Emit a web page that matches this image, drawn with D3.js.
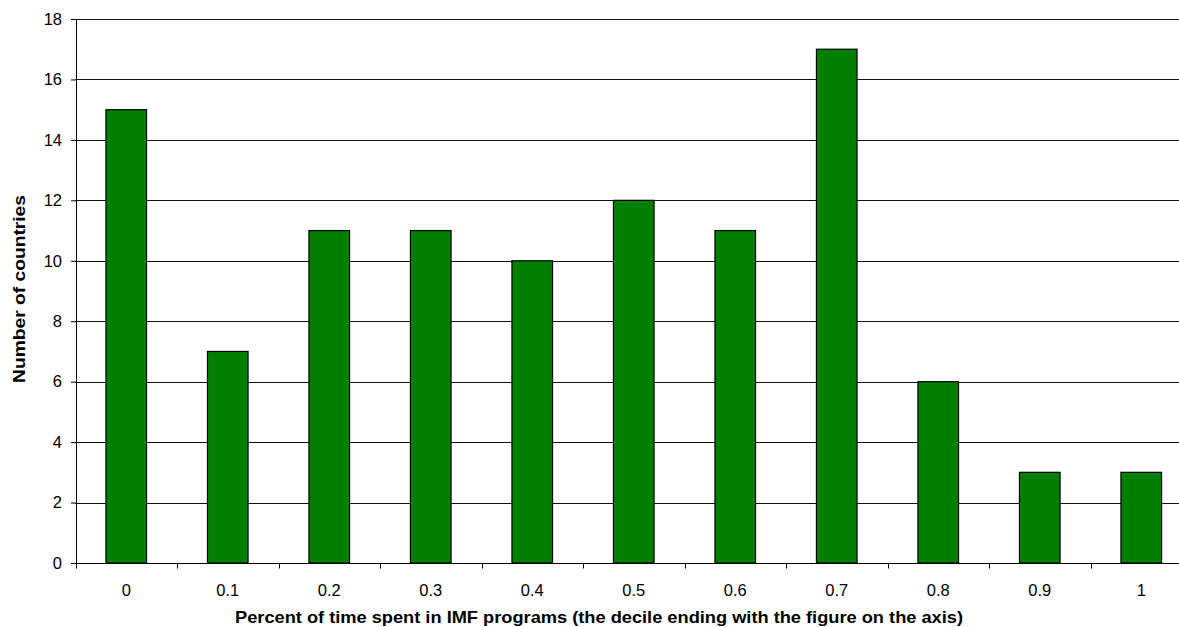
<!DOCTYPE html>
<html>
<head>
<meta charset="utf-8">
<script src="https://cdn.jsdelivr.net/npm/d3@7"></script>
<style>
  html, body { margin: 0; padding: 0; background: #fff; overflow: hidden; }
  svg { display: block; font-family: "Liberation Sans", Arial, sans-serif; }
</style>
</head>
<body>
<svg id="chart" width="1179" height="627"></svg>
<script>
// Deciles of time spent in IMF programs and country counts
const categories = ["0", "0.1", "0.2", "0.3", "0.4", "0.5", "0.6", "0.7", "0.8", "0.9", "1"];
const counts = [15, 7, 11, 11, 10, 12, 11, 17, 6, 3, 3];
const yTicks = [0, 2, 4, 6, 8, 10, 12, 14, 16, 18];

const svg = d3.select("#chart");
const plotLeft = 75.5, plotRight = 1192, plotTop = 19, plotBottom = 563;

const x = d3.scaleBand().domain(categories).range([plotLeft, plotRight]).paddingInner(0.6).paddingOuter(0.3);
const xb = d3.scaleBand().domain(categories).range([plotLeft, plotRight]);
const y = d3.scaleLinear().domain([0, 18]).range([plotBottom, plotTop]);

// horizontal gridlines
svg.append("g").selectAll("line").data(yTicks.slice(1)).join("line")
  .attr("x1", plotLeft).attr("x2", plotRight)
  .attr("y1", d => Math.round(y(d)) + 0.5).attr("y2", d => Math.round(y(d)) + 0.5)
  .attr("stroke", "#111").attr("stroke-width", 1);

// bars
svg.append("g").selectAll("rect").data(counts).join("rect")
  .attr("x", (d, i) => x(categories[i]))
  .attr("width", x.bandwidth())
  .attr("y", d => y(d))
  .attr("height", d => y(0) - y(d))
  .attr("fill", "#007f00")
  .attr("stroke", "#000").attr("stroke-width", 1.2);

// y axis
const yAxis = d3.axisLeft(y).tickValues(yTicks).tickSize(5).tickPadding(9);
const gy = svg.append("g").attr("transform", `translate(${plotLeft + 0.5},0)`).call(yAxis);
gy.select(".domain").attr("stroke", "#000");
gy.selectAll(".tick line").attr("stroke", "#000");
gy.selectAll("text").attr("font-size", 16.5).attr("fill", "#000")
  .attr("font-family", "Liberation Sans, Arial, sans-serif");

// x axis: ticks at band boundaries
const gx = svg.append("g").attr("transform", `translate(0,${Math.round(plotBottom) + 0.5})`);
gx.append("line").attr("x1", plotLeft).attr("x2", plotRight).attr("stroke", "#000");
const boundaries = categories.map(c => xb(c)).concat([plotRight]);
gx.selectAll("line.tk").data(boundaries).join("line").attr("class", "tk")
  .attr("x1", d => Math.round(d) + 0.5).attr("x2", d => Math.round(d) + 0.5)
  .attr("y1", 0).attr("y2", 5).attr("stroke", "#000");
gx.selectAll("text").data(categories).join("text")
  .attr("x", d => xb(d) + xb.bandwidth() / 2)
  .attr("y", 32.5)
  .attr("text-anchor", "middle")
  .attr("font-size", 16.5).attr("fill", "#000")
  .text(d => d);

// axis titles
svg.append("text")
  .attr("x", 599).attr("y", 623)
  .attr("text-anchor", "middle")
  .attr("font-size", 17).attr("font-weight", "bold")
  .attr("textLength", 728).attr("lengthAdjust", "spacingAndGlyphs")
  .text("Percent of time spent in IMF programs (the decile ending with the figure on the axis)");

svg.append("text")
  .attr("transform", `translate(25,289) rotate(-90)`)
  .attr("text-anchor", "middle")
  .attr("font-size", 17).attr("font-weight", "bold")
  .attr("textLength", 188).attr("lengthAdjust", "spacingAndGlyphs")
  .text("Number of countries");
</script>
</body>
</html>
